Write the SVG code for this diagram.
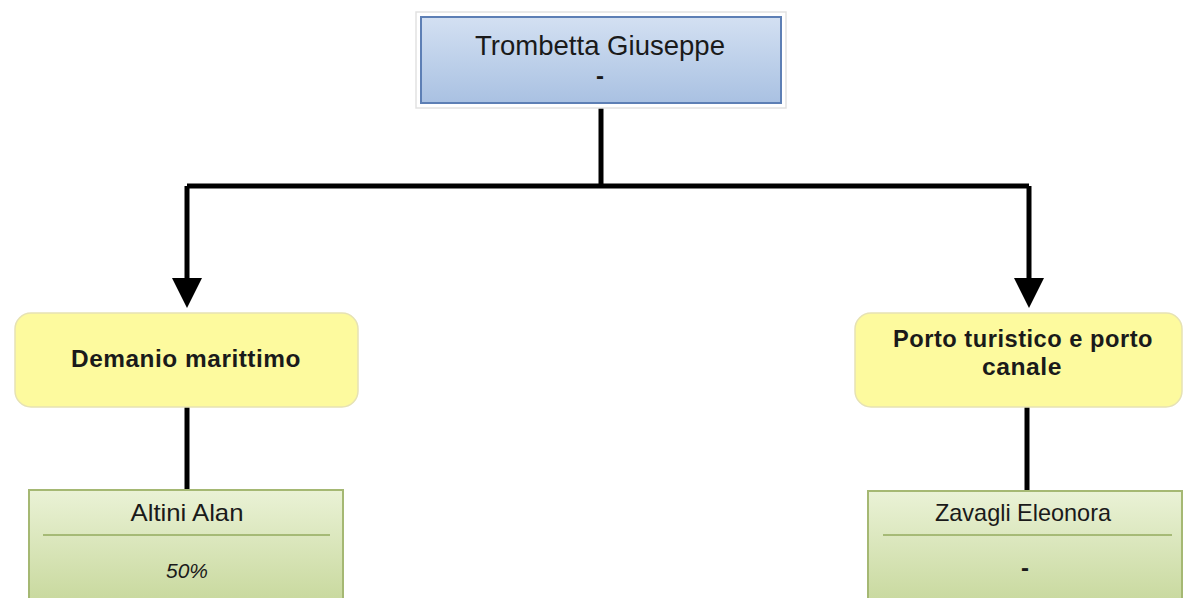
<svg xmlns="http://www.w3.org/2000/svg" width="1185" height="598" viewBox="0 0 1185 598">
<defs>
<linearGradient id="gBlue" x1="0" y1="0" x2="0" y2="1">
<stop offset="0" stop-color="#d3e0f2"/>
<stop offset="1" stop-color="#a9c1e2"/>
</linearGradient>
<linearGradient id="gGreen" x1="0" y1="0" x2="0" y2="1">
<stop offset="0" stop-color="#eaf2d6"/>
<stop offset="1" stop-color="#c6d79a"/>
</linearGradient>
<style>
.frame{fill:#ffffff;stroke:#e2e2e2;stroke-width:1.5}
.blue{fill:url(#gBlue);stroke:#5d7fb5;stroke-width:2}
.yellow{fill:#fdfa9e;stroke:#e6e2b4;stroke-width:1.5}
.green{fill:url(#gGreen);stroke:#a5b873;stroke-width:2}
.sep{stroke:#93ab5e;stroke-width:1.5}
.con{fill:none;stroke:#000;stroke-width:5}
.head{fill:#000}
.t{font-family:"Liberation Sans",Arial,sans-serif;fill:#1a1a1a;text-anchor:middle}
.bold{font-weight:bold;font-size:23px;letter-spacing:0.5px}
</style>
</defs>
<g id="connectors">
<path class="con" d="M601,108 V186"/>
<path class="con" d="M187,186 H1029"/>
<path class="con" d="M187,186 V282"/>
<path class="con" d="M1029,186 V282"/>
<polygon class="head" points="172,278 202,278 187,308"/>
<polygon class="head" points="1014,278 1044,278 1029,308"/>
<path class="con" d="M187,407 V490"/>
<path class="con" d="M1027,407 V491"/>
</g>
<g id="node-trombetta">
<rect class="frame" x="416" y="12" width="370" height="96"/>
<rect class="blue" x="421" y="17" width="360" height="86"/>
<text class="t" x="600" y="55" font-size="28" textLength="250" lengthAdjust="spacingAndGlyphs">Trombetta Giuseppe</text>
<text class="t" x="600" y="84" font-size="24" font-weight="bold">-</text>
</g>
<g id="node-demanio">
<rect class="yellow" x="15" y="313" width="343" height="94" rx="16"/>
<text class="t bold" x="186" y="367" textLength="230" lengthAdjust="spacingAndGlyphs">Demanio marittimo</text>
</g>
<g id="node-porto">
<rect class="yellow" x="855" y="313" width="327" height="94" rx="16"/>
<text class="t bold" x="1023" y="347" textLength="260" lengthAdjust="spacingAndGlyphs">Porto turistico e porto</text>
<text class="t bold" x="1022" y="375" textLength="80" lengthAdjust="spacingAndGlyphs">canale</text>
</g>
<g id="node-altini">
<rect class="green" x="29" y="490" width="314" height="120"/>
<line class="sep" x1="43" y1="535" x2="330" y2="535"/>
<text class="t" x="187" y="521" font-size="24" textLength="113" lengthAdjust="spacingAndGlyphs">Altini Alan</text>
<text class="t" x="187" y="578" font-size="20" font-style="italic" textLength="42" lengthAdjust="spacingAndGlyphs">50%</text>
</g>
<g id="node-zavagli">
<rect class="green" x="868" y="491" width="314" height="120"/>
<line class="sep" x1="883" y1="535" x2="1172" y2="535"/>
<text class="t" x="1023" y="521" font-size="24" textLength="176" lengthAdjust="spacingAndGlyphs">Zavagli Eleonora</text>
<text class="t" x="1025" y="576" font-size="24" font-weight="bold">-</text>
</g>
</svg>
